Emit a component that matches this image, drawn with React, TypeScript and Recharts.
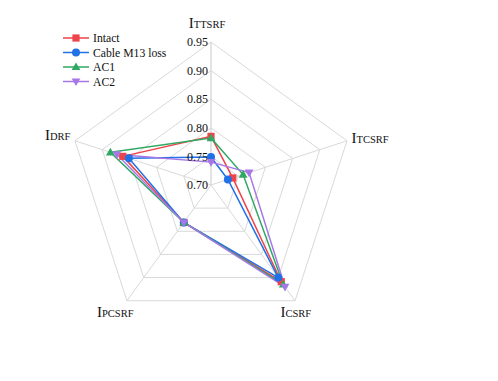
import React from "react";
import {
  Legend,
  PolarAngleAxis,
  PolarGrid,
  PolarRadiusAxis,
  Radar,
  RadarChart,
} from "recharts";

// axis names are drawn as "I" followed by a small-caps suffix
const indexNames = ["TTSRF", "TCSRF", "CSRF", "PCSRF", "DRF"];

const intact = [0.785, 0.74, 0.909, 0.781, 0.862];
const cableM13Loss = [0.749, 0.731, 0.9, 0.781, 0.851];
const ac1 = [0.782, 0.759, 0.915, 0.781, 0.885];
const ac2 = [0.74, 0.77, 0.92, 0.781, 0.873];

const radiusDomain = [0.7, 0.95];

const FONT = '"Liberation Serif", "DejaVu Serif", serif';
const GRID = "#d9d9d9";

type MarkerKind = "square" | "circle" | "triangle" | "triangleDown";

const series: { key: string; name: string; color: string; marker: MarkerKind }[] = [
  { key: "intact", name: "Intact", color: "#ef4349", marker: "square" },
  { key: "cable", name: "Cable M13 loss", color: "#2070e6", marker: "circle" },
  { key: "ac1", name: "AC1", color: "#2fa863", marker: "triangle" },
  { key: "ac2", name: "AC2", color: "#a877e6", marker: "triangleDown" },
];

const data = indexNames.map((name, i) => ({
  name,
  intact: intact[i],
  cable: cableM13Loss[i],
  ac1: ac1[i],
  ac2: ac2[i],
}));

function Marker({ kind, x, y, color }: { kind: MarkerKind; x: number; y: number; color: string }) {
  const s = 3.6;
  if (kind === "square") return <rect x={x - s} y={y - s} width={s * 2} height={s * 2} fill={color} />;
  if (kind === "circle") return <circle cx={x} cy={y} r={s + 0.4} fill={color} />;
  if (kind === "triangle")
    return <polygon points={`${x},${y - s - 1} ${x - s - 0.8},${y + s - 0.5} ${x + s + 0.8},${y + s - 0.5}`} fill={color} />;
  return <polygon points={`${x},${y + s + 1} ${x - s - 0.8},${y - s + 0.5} ${x + s + 0.8},${y - s + 0.5}`} fill={color} />;
}

// per-label placement around the outer pentagon
const labelPlace: Record<string, { dx: number; dy: number; anchor: "start" | "middle" | "end" }> = {
  TTSRF: { dx: -4, dy: -6, anchor: "middle" },
  TCSRF: { dx: -3, dy: 5, anchor: "start" },
  CSRF: { dx: -4, dy: 9.5, anchor: "middle" },
  PCSRF: { dx: -7, dy: 9.5, anchor: "middle" },
  DRF: { dx: 3, dy: 1.5, anchor: "end" },
};

function AngleTick(props: any) {
  const { x, y, payload } = props;
  const p = labelPlace[payload.value] ?? { dx: 0, dy: 0, anchor: "middle" };
  return (
    <text x={x + p.dx} y={y + p.dy} textAnchor={p.anchor} style={{ fontFamily: FONT }} fill="#111">
      <tspan fontSize={15}>I</tspan>
      <tspan fontSize={10.5}>{payload.value}</tspan>
    </text>
  );
}

function RadiusTick(props: any) {
  const { x, y, payload } = props;
  return (
    <text x={x - 3} y={y} dy={4.2} textAnchor="end" style={{ fontFamily: FONT }} fontSize={12} fill="#111">
      {Number(payload.value).toFixed(2)}
    </text>
  );
}

function LegendBox() {
  return (
    <svg width={120} height={62}>
      {series.map((s, i) => {
        const y = 8 + i * 14.5;
        return (
          <g key={s.key}>
            <line x1={0} x2={26} y1={y} y2={y} stroke={s.color} strokeWidth={1.5} />
            <Marker kind={s.marker} x={13} y={y} color={s.color} />
            <text x={30} y={y + 4} style={{ fontFamily: FONT }} fontSize={11.7} fill="#111">
              {s.name}
            </text>
          </g>
        );
      })}
    </svg>
  );
}

export default function App() {
  return (
    <div style={{ width: 490, height: 373 }}>
      <RadarChart width={490} height={373} data={data} cx={203} cy={177} outerRadius={143}>
        <PolarGrid gridType="polygon" stroke={GRID} strokeWidth={1} />
        <PolarAngleAxis dataKey="name" tick={<AngleTick />} tickLine={false} axisLine={false} />
        <PolarRadiusAxis
          angle={90}
          type="number"
          domain={radiusDomain}
          allowDecimals
          allowDataOverflow
          tickCount={6}
          tick={<RadiusTick />}
          tickLine={false}
          axisLine={{ stroke: GRID }}
        />
        {series.map((s) => (
          <Radar
            key={s.key}
            name={s.name}
            dataKey={s.key}
            stroke={s.color}
            strokeWidth={1.5}
            fill="none"
            fillOpacity={0}
            isAnimationActive={false}
            dot={(p: any) => <Marker key={`${s.key}-${p.index}`} kind={s.marker} x={p.cx} y={p.cy} color={s.color} />}
          />
        ))}
        <Legend
          content={() => <LegendBox />}
          wrapperStyle={{ position: "absolute", left: 55, top: 22, width: 120 }}
        />
      </RadarChart>
    </div>
  );
}
